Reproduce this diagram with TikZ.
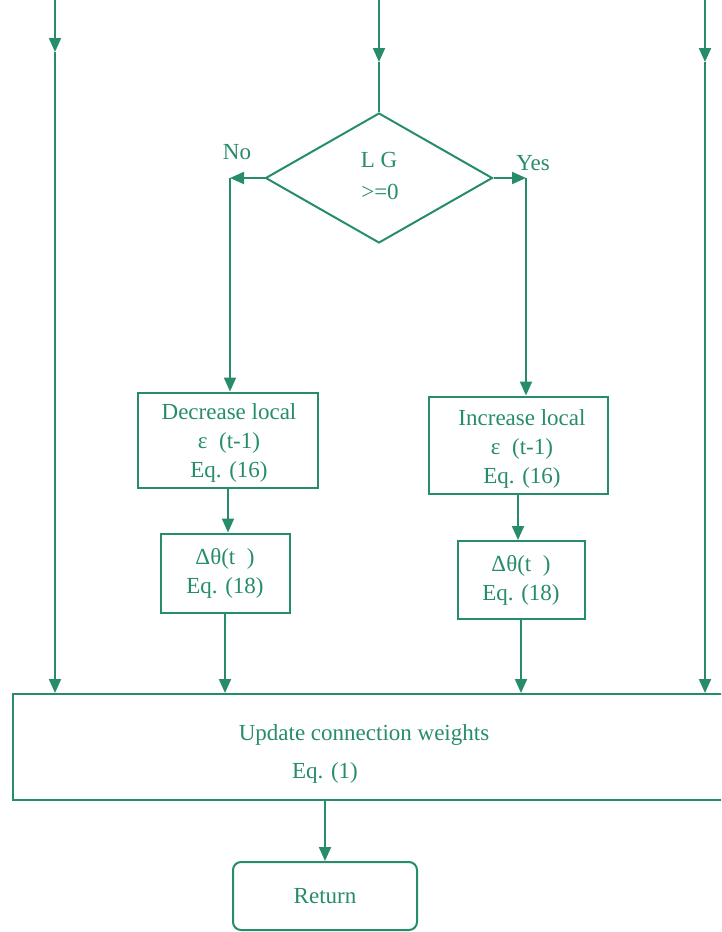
\documentclass[tikz,border=0pt]{standalone}
\usepackage{fontspec}
\setmainfont{Liberation Serif}
\usetikzlibrary{arrows.meta,shapes.geometric}
\definecolor{fc}{RGB}{38,140,105}
\begin{document}
\begin{tikzpicture}[x=1pt,y=-1pt,
  every node/.style={text=fc,font=\fontsize{23}{29}\selectfont},
  box/.style={draw=fc,line width=2pt,align=center,inner sep=0pt},
  conn/.style={draw=fc,line width=2pt},
  arr/.style={conn,-{Triangle[length=14pt,width=12pt]}}]
\useasboundingbox (0,0) rectangle (721,932);
\clip (0,0) rectangle (721,932);
% nodes
\node[box,diamond,minimum width=227pt,minimum height=130pt] (dec) at (379,178) {};
\node (lg) at (379,160) {L G};
\node (ge) at (380,192) {>=0};
\node (no) at (237,152) {No};
\node (yes) at (533,163) {Yes};
\node[box,minimum width=180pt,minimum height=95pt] (decr) at (228,440) {};
\node[align=center] (decrt) at (229,443) {Decrease local\\ε\ \ (t-1)\hspace*{6pt}\\Eq. (16)};
\node[box,minimum width=179pt,minimum height=97pt] (incr) at (518,445) {};
\node[align=center] (incrt) at (522,449) {Increase local\\ε\ \ (t-1)\\Eq. (16)};
\node[box,minimum width=129pt,minimum height=79pt] (dth1) at (225,573) {Δθ(t\ \ )\\Eq. (18)};
\node[box,minimum width=127pt,minimum height=78pt] (dth2) at (521,580) {Δθ(t\ \ )\\Eq. (18)};
\node[box,minimum width=720pt,minimum height=106pt] (upd) at (373,747) {};
\node (updt) at (364,735) {Update connection weights};
\node (eq1) at (325,773) {Eq. (1)};
\node[box,rounded corners=8pt,minimum width=184pt,minimum height=68pt] (ret) at (325,896) {Return};
% coordinates
\coordinate (tc) at (379,0);
\coordinate (tcm) at (379,62);
\coordinate (tl) at (55,0);
\coordinate (tlm) at (55,52);
\coordinate (tr) at (705,0);
\coordinate (trm) at (705,62);
\coordinate (nc) at (230,178);
\coordinate (yc) at (526,178);
% connectors
\draw[arr] (tc) -- (tcm);
\draw[conn] (tcm) -- (dec.north);
\draw[arr] (tl) -- (tlm);
\draw[arr] (tlm) -- (tlm |- upd.north);
\draw[arr] (tr) -- (trm);
\draw[arr] (trm) -- (trm |- upd.north);
\draw[arr] (dec.west) -- (nc);
\draw[arr] (nc) -- (nc |- decr.north);
\draw[arr] (dec.east) -- (yc);
\draw[arr] (yc) -- (yc |- incr.north);
\draw[arr] (decr) -- (decr |- dth1.north);
\draw[arr] (incr) -- (incr |- dth2.north);
\draw[arr] (dth1.south) -- (dth1.south |- upd.north);
\draw[arr] (dth2.south) -- (dth2.south |- upd.north);
\draw[arr] (ret |- upd.south) -- (ret.north);
\end{tikzpicture}
\end{document}
